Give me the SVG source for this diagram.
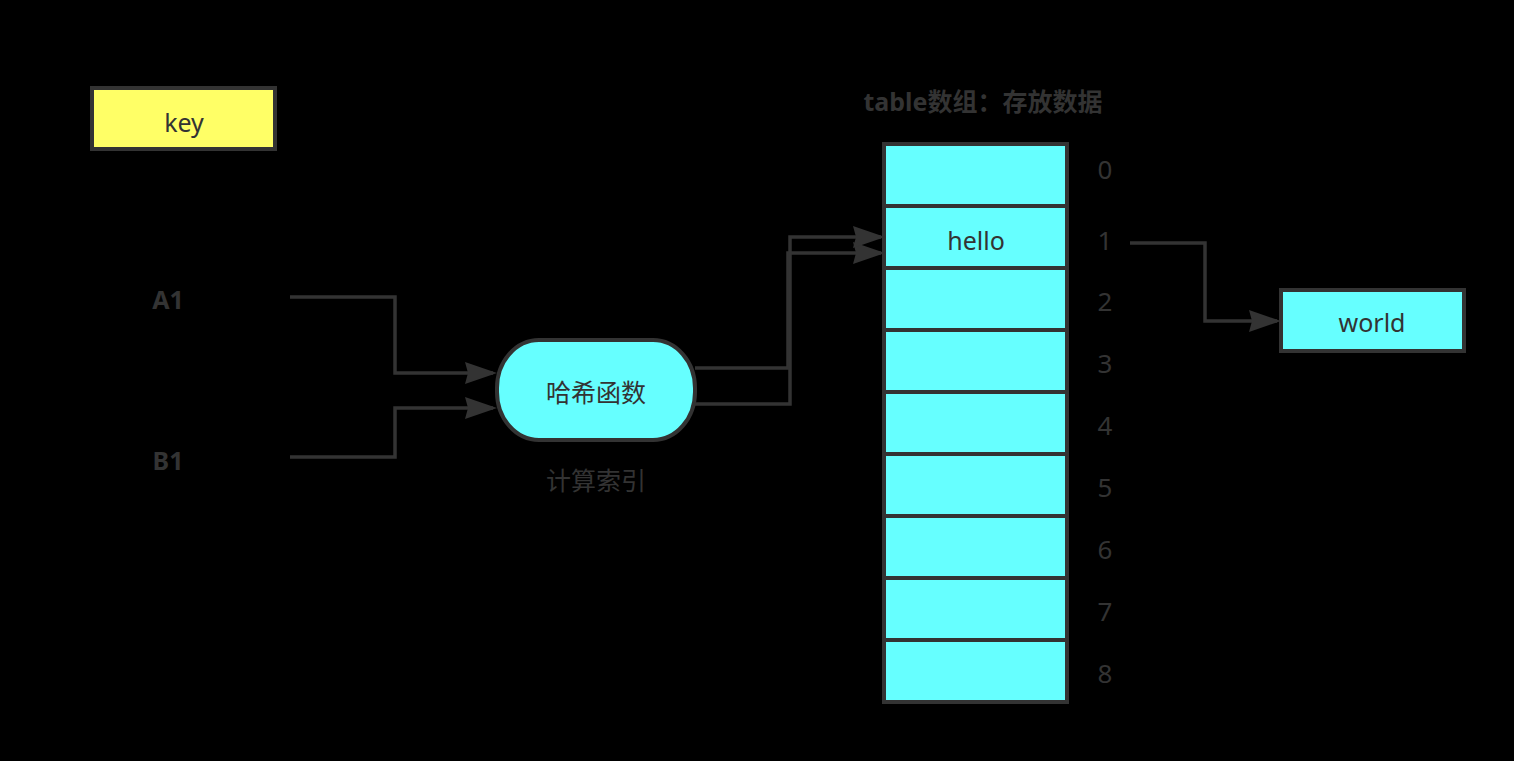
<svg xmlns="http://www.w3.org/2000/svg" width="1514" height="761" viewBox="0 0 1514 761">
<style>
.t{font-family:"Noto Sans","Noto Sans CJK SC",sans-serif;font-size:25px;fill:#333333;text-anchor:middle}
.n{font-size:26px}
.b{font-weight:bold}
.cell{fill:#66FFFF;stroke:#333333;stroke-width:4}
.ln{fill:none;stroke:#333333;stroke-width:3.5}
</style>
<defs>
<marker id="arr" markerUnits="userSpaceOnUse" markerWidth="34" markerHeight="24" refX="28" refY="11" orient="auto">
<path d="M0,0 L32,11 L0,22 L3,11 Z" fill="#333333"/>
</marker>
</defs>
<rect x="0" y="0" width="1514" height="761" fill="#000000"/>

<g id="key">
<rect x="92" y="88" width="183" height="61" fill="#FFFF66" stroke="#333333" stroke-width="4"/>
<text class="t" x="184" y="132">key</text>
</g>

<g id="A1"><text class="t b" x="168" y="309">A1</text></g>
<g id="B1"><text class="t b" x="168" y="470">B1</text></g>

<g id="hash">
<rect x="497" y="340" width="198" height="100" rx="42" ry="48" class="cell"/>
<text class="t" x="596" y="402">哈希函数</text>
</g>
<g id="hashLabel"><text class="t" x="596" y="490">计算索引</text></g>

<g id="title"><text class="t b" x="983" y="111">table数组：存放数据</text></g>

<g id="table">
<rect class="cell" x="884" y="144" width="183" height="62"/>
<rect class="cell" x="884" y="206" width="183" height="62"/>
<rect class="cell" x="884" y="268" width="183" height="62"/>
<rect class="cell" x="884" y="330" width="183" height="62"/>
<rect class="cell" x="884" y="392" width="183" height="62"/>
<rect class="cell" x="884" y="454" width="183" height="62"/>
<rect class="cell" x="884" y="516" width="183" height="62"/>
<rect class="cell" x="884" y="578" width="183" height="62"/>
<rect class="cell" x="884" y="640" width="183" height="62"/>
<text class="t" x="976" y="250">hello</text>
</g>

<g id="indices">
<text class="t n" x="1105" y="179">0</text>
<text class="t n" x="1105" y="250">1</text>
<text class="t n" x="1105" y="311">2</text>
<text class="t n" x="1105" y="373">3</text>
<text class="t n" x="1105" y="435">4</text>
<text class="t n" x="1105" y="497">5</text>
<text class="t n" x="1105" y="559">6</text>
<text class="t n" x="1105" y="621">7</text>
<text class="t n" x="1105" y="683">8</text>
</g>

<g id="world">
<rect class="cell" x="1281" y="290" width="183" height="61"/>
<text class="t" x="1372" y="332">world</text>
</g>

<g id="connectors">
<path class="ln" d="M290,297 H395 V373 H493" marker-end="url(#arr)"/>
<path class="ln" d="M290,457 H395 V408 H493" marker-end="url(#arr)"/>
<path class="ln" d="M695,368 H788 V253 H881" marker-end="url(#arr)"/>
<path class="ln" d="M693,404 H790 V237 H881" marker-end="url(#arr)"/>
<path class="ln" d="M1130,243 H1205 V321 H1277" marker-end="url(#arr)"/>
</g>
</svg>
